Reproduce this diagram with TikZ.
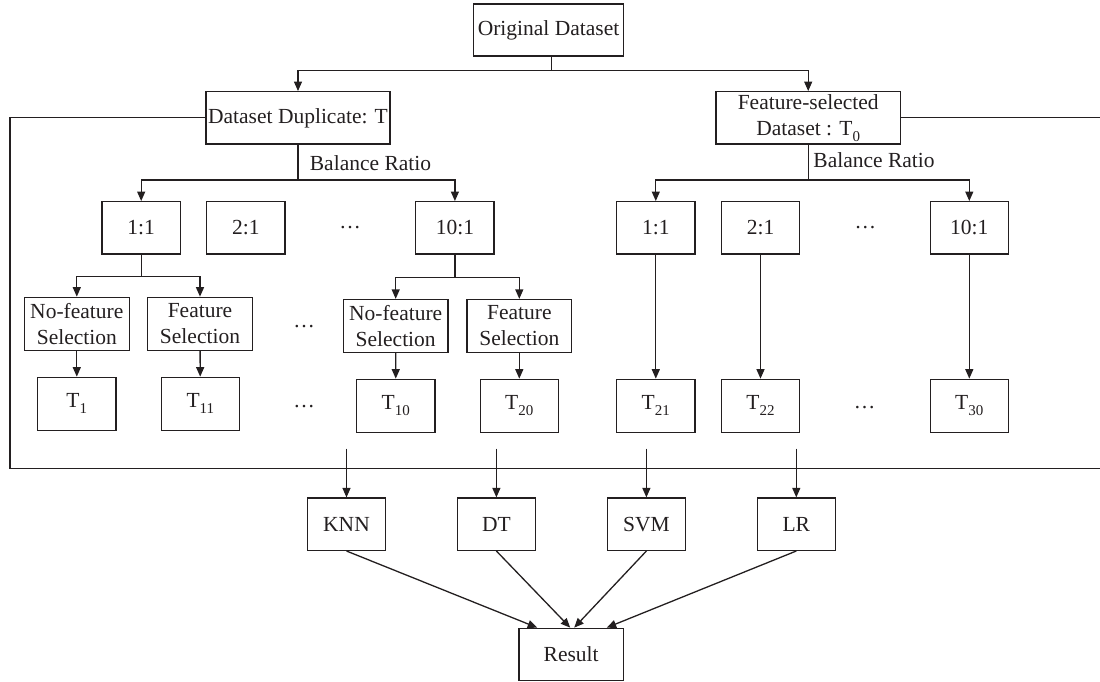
\documentclass[tikz,border=0pt]{standalone}
\usepackage{fontspec}
\setmainfont{Liberation Serif}
\usetikzlibrary{arrows.meta}
\definecolor{ink}{RGB}{35,31,32}
\newcommand{\tsub}[1]{\raisebox{-0.28em}{\fontsize{15}{15}\selectfont #1}}
\begin{document}
\begin{tikzpicture}[x=1pt,y=-1pt,
  every node/.style={text=ink,font=\fontsize{21.5}{26}\selectfont},
  box/.style={draw=ink,line width=1.3pt,inner sep=0pt,align=center,minimum height=52.3pt},
  ratiobox/.style={box,minimum width=78.3pt},
  selbox/.style={box,minimum width=104.8pt,minimum height=53pt},
  line/.style={draw=ink,line width=1.3pt},
  arr/.style={line,-{Triangle[length=9.5pt,width=8pt]}},
  dotsnode/.style={inner sep=0pt}]
\useasboundingbox (0,0) rectangle (1100,682);

% top
\node[box,minimum width=150.4pt,minimum height=52pt] (orig) at (548.5,30) {Original Dataset};
\node[box,minimum width=184pt] (dd) at (298,117.85) {Dataset Duplicate: T};
\node[box,minimum width=184.3pt] (fs) at (808.2,117.85) {Feature-selected\\Dataset : T\tsub{0}};

% ratio boxes
\node[ratiobox] (r1) at (141.2,227.85) {1:1};
\node[ratiobox] (r2) at (245.8,227.85) {2:1};
\node[dotsnode] (rd) at (350,228) {\ldots};
\node[ratiobox] (r10) at (454.9,227.85) {10:1};
\node[ratiobox] (q1) at (655.8,227.85) {1:1};
\node[ratiobox] (q2) at (760.5,227.85) {2:1};
\node[dotsnode] (qd) at (865.3,228) {\ldots};
\node[ratiobox] (q10) at (969.3,227.85) {10:1};

% balance labels
\node (bl) at (370.5,163) {Balance Ratio};
\node (br) at (874,160) {Balance Ratio};

% selection boxes
\node[selbox] (nf1) at (76.8,323.8) {No-feature\\Selection};
\node[selbox] (fs1) at (200,323.8) {Feature\\Selection};
\node[dotsnode] (sd) at (304,327) {\ldots};
\node[selbox] (nf2) at (395.7,326) {No-feature\\Selection};
\node[selbox] (fs2) at (519.3,326) {Feature\\Selection};

% T boxes
\node[ratiobox,minimum height=53pt] (t1) at (76.8,403.8) {T\tsub{1}};
\node[ratiobox,minimum height=53pt] (t11) at (200.3,403.8) {T\tsub{11}};
\node[dotsnode] (td) at (304,406.5) {\ldots};
\node[ratiobox,minimum height=53pt] (t10) at (395.8,405.8) {T\tsub{10}};
\node[ratiobox,minimum height=53pt] (t20) at (519.3,405.8) {T\tsub{20}};
\node[ratiobox,minimum height=53pt] (t21) at (655.8,405.8) {T\tsub{21}};
\node[ratiobox,minimum height=53pt] (t22) at (760.5,405.8) {T\tsub{22}};
\node[dotsnode] (ud) at (864.7,408) {\ldots};
\node[ratiobox,minimum height=53pt] (t30) at (969.3,405.8) {T\tsub{30}};

% classifiers
\node[box,minimum width=78pt] (knn) at (346.5,524.2) {KNN};
\node[box,minimum width=78pt] (dt) at (496.4,524.2) {DT};
\node[box,minimum width=78pt] (svm) at (646.4,524.2) {SVM};
\node[box,minimum width=78pt] (lr) at (796.3,524.2) {LR};
\node[box,minimum width=104.3pt,minimum height=52.4pt] (res) at (571.2,654.5) {Result};

% top split
\coordinate (os) at (551.7,70.7);
\draw[line] (os |- orig.south) -- (os);
\draw[arr] (os) -| (dd.north);
\draw[arr] (os) -| (fs.north);

% balance ratio splits
\coordinate (db) at (298,180);
\draw[line] (dd.south) -- (db);
\draw[arr] (db) -| (r1.north);
\draw[arr] (db) -| (r10.north);
\coordinate (fb) at (808.2,180);
\draw[line] (fs.south) -- (fb);
\draw[arr] (fb) -| (q1.north);
\draw[arr] (fb) -| (q10.north);

% selection splits
\coordinate (s1) at (141.2,276.5);
\draw[line] (r1.south) -- (s1);
\draw[arr] (s1) -| (nf1.north);
\draw[arr] (s1) -| (fs1.north);
\coordinate (s10) at (454.9,277.3);
\draw[line] (r10.south) -- (s10);
\draw[arr] (s10) -| (nf2.north);
\draw[arr] (s10) -| (fs2.north);

% to T boxes
\draw[arr] (nf1) -- (t1);
\draw[arr] (fs1) -- (t11);
\draw[arr] (nf2) -- (t10);
\draw[arr] (fs2) -- (t20);
\draw[arr] (q1) -- (t21);
\draw[arr] (q2) -- (t22);
\draw[arr] (q10) -- (t30);

% loop
\coordinate (lt) at (10,117.3);
\coordinate (lb) at (10,468.3);
\coordinate (rb) at (1100,468.3);
\coordinate (rt) at (1100,117.3);
\draw[line] (dd.west |- lt) -- (lt) -- (lb) -- (rb);
\draw[line] (fs.east |- rt) -- (rt);

% to classifiers
\foreach \n in {knn,dt,svm,lr}{
  \coordinate (\n top) at ([yshift=48.9pt]\n.north);
  \draw[arr] (\n top) -- (\n.north);
}

% to result
\draw[arr] (knn.south) -- ([xshift=-34pt]res.north);
\draw[arr] (dt.south) -- ([xshift=-1pt]res.north);
\draw[arr] (svm.south) -- ([xshift=3pt]res.north);
\draw[arr] (lr.south) -- ([xshift=35.5pt]res.north);
\end{tikzpicture}
\end{document}
